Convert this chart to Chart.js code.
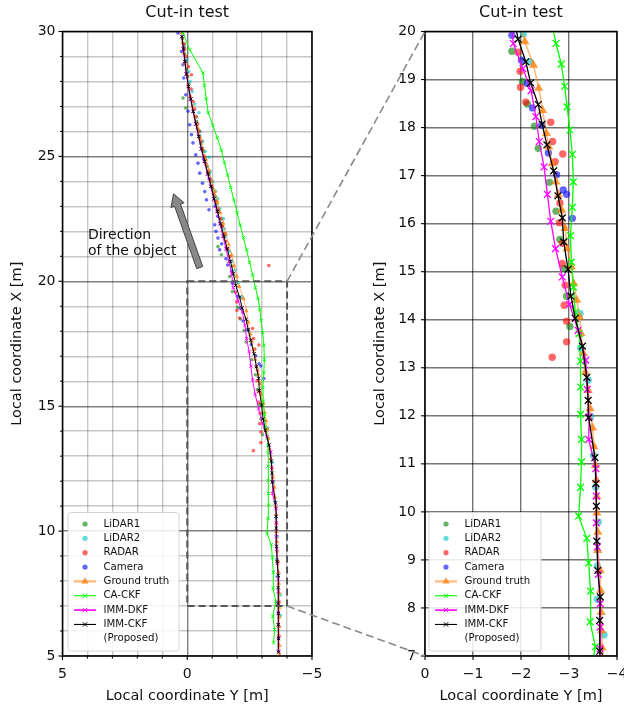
<!DOCTYPE html>
<html>
<head>
<meta charset="utf-8">
<title>Cut-in test</title>
<script src="https://cdn.jsdelivr.net/npm/chart.js@4.4.1/dist/chart.umd.min.js"></script>
<style>
  html, body { margin: 0; padding: 0; background: #ffffff; }
  #wrap { position: relative; width: 624px; height: 709px; overflow: hidden; background: #ffffff; }
  #wrap canvas { position: absolute; left: 0; top: 0; }
</style>
</head>
<body>
<div id="wrap">
  <canvas id="overview" width="680" height="709" style="width:680px;height:709px"></canvas>
  <canvas id="detail" width="680" height="709" style="width:680px;height:709px"></canvas>
</div>
<script>
// Local X = forward distance [m] (vertical axis), Local Y = lateral offset [m] (horizontal axis)

// ---- sensor measurements ----
const lidar1X = [13.86, 14.49, 15.07, 15.67, 16.26, 16.86, 17.57, 18.03, 18.49, 18.96, 19.59, 20.19, 20.60, 21.06, 21.39, 21.90, 22.20, 22.50, 22.80, 23.10, 23.40, 23.70, 24.00, 24.30, 24.60, 24.90, 25.20, 25.50, 25.80, 26.10, 26.40, 26.94, 27.34, 27.90, 28.20, 28.50, 28.80, 29.10, 29.40, 29.70];
const lidar1Y = [-3.02, -2.95, -2.90, -2.81, -2.73, -2.59, -2.36, -2.28, -2.13, -2.03, -1.81, -1.70, -1.80, -1.37, -1.23, -1.52, -1.40, -1.38, -1.25, -1.18, -1.12, -1.02, -0.97, -0.88, -0.80, -0.72, -0.65, -0.55, -0.50, -0.42, -0.38, 0.06, 0.17, -0.06, -0.02, 0.04, 0.06, 0.10, 0.14, 0.20];

const lidar2X = [6.62, 7.44, 8.18, 8.87, 9.79, 10.52, 11.18, 11.98, 12.74, 13.41, 14.13, 19.37, 19.95, 20.45, 20.80, 21.19, 21.80, 22.10, 22.50, 22.90, 23.30, 23.60, 23.99, 24.40, 24.97, 25.20, 25.60, 26.00, 26.57, 26.75, 27.10, 27.60, 28.00, 28.40, 28.90, 29.50];
const lidar2Y = [-3.74, -3.73, -3.59, -3.59, -3.61, -3.56, -3.51, -3.45, -3.40, -3.24, -3.23, -2.19, -2.05, -1.92, -1.80, -1.70, -1.52, -1.48, -1.45, -1.30, -1.22, -1.13, -1.03, -0.92, -0.87, -0.72, -0.62, -0.52, -0.37, -0.47, -0.30, -0.20, -0.12, -0.06, 0.02, 0.12];

const radarX = [13.22, 13.54, 13.97, 14.30, 14.72, 15.17, 15.59, 16.02, 16.43, 17.29, 17.45, 17.71, 18.11, 18.53, 18.84, 19.17, 19.57, 20.63, 21.00, 21.30, 21.60, 21.90, 22.20, 22.50, 22.90, 23.20, 23.50, 23.80, 24.10, 24.40, 24.70, 25.00, 25.30, 25.60, 26.00, 26.30, 26.60, 26.90, 27.20, 27.70, 28.27, 28.60, 29.00, 29.30, 29.50];
const radarY = [-2.65, -2.95, -2.95, -2.90, -2.92, -2.86, -2.86, -2.80, -2.81, -2.71, -2.87, -2.66, -2.62, -2.10, -1.99, -1.98, -1.94, -3.27, -1.72, -1.62, -1.55, -1.48, -1.40, -1.33, -1.22, -1.14, -1.05, -0.98, -0.92, -0.84, -0.75, -0.68, -0.60, -0.55, -0.48, -0.42, -0.36, -0.30, -0.24, -0.16, -0.17, -0.05, 0.05, 0.10, 0.12];

const cameraX = [16.11, 16.61, 16.70, 17.02, 17.47, 18.05, 18.41, 18.92, 19.40, 19.92, 20.40, 20.65, 20.90, 21.26, 21.50, 21.73, 22.00, 22.26, 22.60, 22.86, 23.00, 23.26, 23.59, 23.93, 24.10, 24.33, 24.73, 24.90, 25.06, 25.54, 25.87, 26.27, 26.81, 27.47, 28.14, 28.67, 29.20, 29.94];
const cameraY = [-3.07, -2.95, -2.88, -2.74, -2.57, -2.43, -2.24, -2.13, -2.01, -1.81, -1.78, -1.62, -1.55, -1.30, -1.38, -1.23, -1.15, -1.10, -1.22, -0.87, -1.12, -0.77, -0.70, -0.61, -0.88, -0.50, -0.43, -0.66, -0.34, -0.23, -0.17, -0.10, -0.03, 0.06, 0.14, 0.17, 0.23, 0.37];

// ---- reference trajectory ----
const truthX = [5.05, 5.42, 5.80, 6.18, 6.56, 6.95, 7.17, 7.53, 7.91, 8.36, 8.78, 9.20, 9.58, 9.98, 10.32, 10.66, 10.97, 11.36, 11.75, 12.15, 12.53, 12.91, 13.30, 13.71, 14.06, 14.41, 14.75, 15.10, 15.48, 15.90, 16.28, 16.60, 16.87, 17.25, 17.60, 17.88, 18.36, 18.82, 19.30, 19.79, 20.20, 20.62, 21.05, 21.48, 21.90, 22.32, 22.75, 23.18, 23.60, 24.02, 24.45, 24.88, 25.30, 25.72, 26.15, 26.58, 27.00, 27.42, 27.85, 28.28, 28.70, 29.12, 29.55, 29.95];
const truthY = [-3.70, -3.70, -3.69, -3.69, -3.69, -3.69, -3.69, -3.68, -3.67, -3.66, -3.65, -3.60, -3.60, -3.58, -3.58, -3.57, -3.55, -3.52, -3.49, -3.44, -3.40, -3.34, -3.30, -3.25, -3.22, -3.16, -3.10, -3.05, -2.96, -2.92, -2.85, -2.78, -2.73, -2.65, -2.58, -2.53, -2.45, -2.37, -2.26, -2.08, -1.98, -1.88, -1.78, -1.66, -1.55, -1.44, -1.32, -1.21, -1.10, -0.98, -0.86, -0.74, -0.62, -0.52, -0.41, -0.31, -0.21, -0.12, -0.04, 0.03, 0.09, 0.14, 0.19, 0.22];

// ---- filter estimates ----
const caCkfX = [5.53, 6.06, 6.59, 7.19, 7.71, 8.35, 8.94, 9.45, 9.91, 10.51, 11.04, 11.51, 12.03, 12.60, 13.14, 13.71, 14.16, 14.68, 15.20, 15.75, 16.34, 16.87, 17.44, 17.95, 18.43, 18.86, 19.32, 19.75, 20.25, 20.75, 21.25, 21.75, 22.25, 22.75, 23.25, 23.75, 24.25, 24.75, 25.25, 25.75, 26.25, 26.75, 27.30, 27.85, 28.34, 29.27, 29.94];
const caCkfY = [-3.46, -3.50, -3.43, -3.55, -3.44, -3.45, -3.41, -3.37, -3.20, -3.24, -3.26, -3.26, -3.24, -3.24, -3.24, -3.21, -3.13, -3.09, -3.05, -3.03, -3.07, -3.09, -3.07, -3.02, -2.96, -2.91, -2.84, -2.73, -2.62, -2.50, -2.38, -2.25, -2.12, -2.00, -1.87, -1.74, -1.62, -1.49, -1.37, -1.20, -1.02, -0.84, -0.76, -0.69, -0.63, -0.10, 0.17];

const immDkfX = [5.20, 5.75, 6.25, 6.75, 7.15, 7.60, 8.09, 8.70, 9.27, 9.77, 10.33, 10.90, 11.51, 11.98, 12.55, 13.16, 13.78, 14.32, 14.89, 15.48, 16.05, 16.61, 17.18, 17.71, 18.23, 18.77, 19.23, 19.75, 20.30, 20.80, 21.30, 21.80, 22.30, 22.80, 23.30, 23.80, 24.30, 24.80, 25.30, 25.80, 26.30, 26.80, 27.30, 27.80, 28.30, 28.80, 29.30, 29.80];
const immDkfY = [-3.66, -3.66, -3.65, -3.65, -3.65, -3.65, -3.65, -3.61, -3.59, -3.57, -3.57, -3.56, -3.41, -3.42, -3.38, -3.35, -3.19, -3.01, -2.86, -2.72, -2.62, -2.55, -2.48, -2.38, -2.31, -2.21, -2.04, -1.84, -1.78, -1.67, -1.55, -1.43, -1.31, -1.19, -1.06, -0.94, -0.81, -0.68, -0.56, -0.45, -0.34, -0.23, -0.13, -0.04, 0.04, 0.10, 0.16, 0.22];

const immCkfX = [5.15, 5.70, 6.25, 6.70, 7.10, 7.74, 8.23, 8.78, 9.39, 10.12, 10.59, 11.13, 11.96, 12.32, 12.80, 13.45, 14.03, 14.49, 15.05, 15.62, 16.12, 16.58, 17.10, 17.64, 18.07, 18.48, 18.93, 19.37, 19.84, 20.30, 20.80, 21.30, 21.80, 22.30, 22.80, 23.30, 23.80, 24.30, 24.80, 25.30, 25.80, 26.30, 26.80, 27.30, 27.80, 28.30, 28.80, 29.30, 29.80];
const immCkfY = [-3.66, -3.66, -3.65, -3.65, -3.64, -3.64, -3.65, -3.60, -3.58, -3.57, -3.56, -3.54, -3.41, -3.40, -3.37, -3.28, -3.13, -3.04, -2.98, -2.89, -2.86, -2.77, -2.68, -2.54, -2.44, -2.36, -2.20, -2.10, -1.94, -1.85, -1.73, -1.60, -1.47, -1.34, -1.21, -1.08, -0.96, -0.83, -0.70, -0.57, -0.46, -0.35, -0.24, -0.14, -0.05, 0.03, 0.09, 0.15, 0.21];

// ---- axis ranges and labelled ticks ----
const overviewLatRange = [-5, 5];
const overviewLonRange = [5, 30];
const overviewLatLabels = [5, 0, -5];
const overviewLonLabels = [5, 10, 15, 20, 25, 30];
const detailLatRange = [-4, 0];
const detailLonRange = [7, 20];
const detailLatLabels = [0, -1, -2, -3, -4];
const detailLonLabels = [7, 8, 9, 10, 11, 12, 13, 14, 15, 16, 17, 18, 19, 20];

const titleText = 'Cut-in test';
const latAxisTitle = 'Local coordinate Y [m]';
const lonAxisTitle = 'Local coordinate X [m]';
const directionCaption = ['Direction', 'of the object'];

Chart.defaults.font.family = "'DejaVu Sans', sans-serif";
Chart.defaults.color = '#111111';

const colors = {
  lidar1: 'rgba(0,128,0,0.6)',
  lidar2: 'rgba(0,191,191,0.6)',
  radar: 'rgba(255,0,0,0.6)',
  camera: 'rgba(0,0,255,0.6)',
  truthLine: 'rgba(255,127,14,0.55)',
  truthMark: 'rgba(255,127,14,0.8)',
  ca: '#00ff00',
  dkf: '#ff00ff',
  ckf: '#000000'
};

// series description shared by both panels and the legends
const series = [
  { key: 'lidar1', legend: ['LiDAR1'], xs: lidar1X, ys: lidar1Y, kind: 'dot', color: colors.lidar1 },
  { key: 'lidar2', legend: ['LiDAR2'], xs: lidar2X, ys: lidar2Y, kind: 'dot', color: colors.lidar2 },
  { key: 'radar', legend: ['RADAR'], xs: radarX, ys: radarY, kind: 'dot', color: colors.radar },
  { key: 'camera', legend: ['Camera'], xs: cameraX, ys: cameraY, kind: 'dot', color: colors.camera },
  { key: 'truth', legend: ['Ground truth'], xs: truthX, ys: truthY, kind: 'tri', color: colors.truthMark, line: colors.truthLine },
  { key: 'ca', legend: ['CA-CKF'], xs: caCkfX, ys: caCkfY, kind: 'cross', color: colors.ca, line: colors.ca },
  { key: 'dkf', legend: ['IMM-DKF'], xs: immDkfX, ys: immDkfY, kind: 'cross', color: colors.dkf, line: colors.dkf },
  { key: 'ckf', legend: ['IMM-CKF', '(Proposed)'], xs: immCkfX, ys: immCkfY, kind: 'cross', color: colors.ckf, line: colors.ckf }
];

function toPoints(xs, ys) {
  return xs.map((v, i) => ({ x: ys[i], y: v }));
}

function buildDatasets(size) {
  const n = series.length;
  return series.map((s, i) => {
    const ds = {
      label: s.legend.join(' '),
      data: toPoints(s.xs, s.ys),
      order: n - i,
      showLine: !!s.line,
      tension: 0,
      borderColor: s.line || s.color,
      borderWidth: s.key === 'truth' ? size.truthLine : size.line,
      pointBackgroundColor: s.color,
      pointBorderColor: s.color,
      pointHoverRadius: 0
    };
    if (s.kind === 'dot') {
      Object.assign(ds, { pointStyle: 'circle', pointRadius: size.dot, pointBorderWidth: 0 });
    } else if (s.kind === 'tri') {
      Object.assign(ds, { pointStyle: 'triangle', pointRadius: size.tri, pointBorderWidth: 0 });
    } else {
      Object.assign(ds, { pointStyle: 'crossRot', pointRadius: size.cross, pointBorderWidth: size.crossWidth });
    }
    return ds;
  });
}

function fmt(v) {
  const r = Math.round(v);
  return r < 0 ? '\u2212' + Math.abs(r) : String(r);
}

function hasLabel(list, v) {
  return list.some(l => Math.abs(l - v) < 1e-6);
}

// per-panel look
const panels = {
  overview: {
    latRange: overviewLatRange, lonRange: overviewLonRange,
    latLabels: overviewLatLabels, lonLabels: overviewLonLabels,
    padding: { left: 0, top: 31.5, right: 368, bottom: 0 },
    yAxisWidth: 62.5, yTickPad: 7,
    major: v => Math.abs(Math.round(v)) % 5 === 0,
    gridMajor: 'rgba(0,0,0,0.5)', gridMinor: 'rgba(0,0,0,0.22)', gridWidth: 1.4,
    size: { dot: 1.8, tri: 2.7, cross: 2.3, crossWidth: 1, line: 1, truthLine: 1 },
    legendInset: 5.5, legendWidth: 111
  },
  detail: {
    latRange: detailLatRange, lonRange: detailLonRange,
    latLabels: detailLatLabels, lonLabels: detailLonLabels,
    padding: { left: 363, top: 31.5, right: 63, bottom: 0 },
    yAxisWidth: 62, yTickPad: 9,
    major: v => true,
    gridMajor: 'rgba(0,0,0,0.55)', gridMinor: 'rgba(0,0,0,0.55)', gridWidth: 1.4,
    size: { dot: 3.7, tri: 5.3, cross: 4.8, crossWidth: 1.3, line: 1.3, truthLine: 1.6 },
    legendInset: 4, legendWidth: 112
  }
};

function scalesFor(p) {
  const gridColor = c => (c.tick && p.major(c.tick.value)) ? p.gridMajor : p.gridMinor;
  return {
    x: {
      type: 'linear', reverse: true,
      min: p.latRange[0], max: p.latRange[1],
      afterFit: s => { s.height = 53; },
      ticks: {
        stepSize: 1, autoSkip: false, maxRotation: 0, minRotation: 0, padding: 10,
        font: { size: 14 }, color: '#111111',
        callback: v => hasLabel(p.latLabels, v) ? fmt(v) : ''
      },
      grid: { drawTicks: false, color: gridColor, lineWidth: p.gridWidth },
      border: { display: false },
      title: { display: true, text: latAxisTitle, font: { size: 14.5 }, color: '#111111', padding: { top: 0, bottom: 3.6 } }
    },
    y: {
      type: 'linear',
      min: p.lonRange[0], max: p.lonRange[1],
      afterFit: s => { s.width = p.yAxisWidth; },
      ticks: {
        stepSize: 1, autoSkip: false, padding: p.yTickPad,
        font: { size: 14 }, color: '#111111',
        callback: v => hasLabel(p.lonLabels, v) ? fmt(v) : ''
      },
      grid: { drawTicks: false, color: gridColor, lineWidth: p.gridWidth },
      border: { display: false },
      title: { display: true, text: lonAxisTitle, font: { size: 14.5 }, color: '#111111', padding: { top: 8.3, bottom: 0 } }
    }
  };
}

function drawMarker(ctx, kind, x, y, color) {
  ctx.save();
  if (kind === 'dot') {
    ctx.fillStyle = color;
    ctx.beginPath(); ctx.arc(x, y, 2.6, 0, Math.PI * 2); ctx.fill();
  } else if (kind === 'tri') {
    const r = 4.2;
    ctx.fillStyle = color;
    ctx.beginPath();
    for (let k = 0; k < 3; k++) {
      const a = k * 2 * Math.PI / 3;
      const px = x + Math.sin(a) * r, py = y - Math.cos(a) * r;
      if (k === 0) ctx.moveTo(px, py); else ctx.lineTo(px, py);
    }
    ctx.closePath(); ctx.fill();
  } else {
    const h = 2.2;
    ctx.strokeStyle = color; ctx.lineWidth = 1;
    ctx.beginPath();
    ctx.moveTo(x - h, y - h); ctx.lineTo(x + h, y + h);
    ctx.moveTo(x + h, y - h); ctx.lineTo(x - h, y + h);
    ctx.stroke();
  }
  ctx.restore();
}

function drawLegend(chart, p) {
  const ctx = chart.ctx, a = chart.chartArea;
  const rowH = 14.35;
  const h = 138.5;
  const left = a.left + p.legendInset;
  const top = a.bottom - 5 - h;
  const w = p.legendWidth;
  ctx.save();
  ctx.beginPath();
  if (ctx.roundRect) ctx.roundRect(left, top, w, h, 2.5); else ctx.rect(left, top, w, h);
  ctx.fillStyle = 'rgba(255,255,255,0.85)';
  ctx.fill();
  ctx.strokeStyle = '#d4d4d4';
  ctx.lineWidth = 1;
  ctx.stroke();
  ctx.font = "10.2px 'DejaVu Sans', sans-serif";
  ctx.textBaseline = 'middle';
  ctx.textAlign = 'left';
  ctx.fillStyle = '#111111';
  let row = 0;
  series.forEach(s => {
    const cy = top + 11.5 + row * rowH;
    const mx = left + 17;
    if (s.line) {
      ctx.strokeStyle = s.line;
      ctx.lineWidth = s.key === 'truth' ? 2.2 : (s.key === 'dkf' ? 1.6 : 1.1);
      ctx.beginPath(); ctx.moveTo(left + 6, cy); ctx.lineTo(left + 28, cy); ctx.stroke();
    }
    drawMarker(ctx, s.kind, mx, cy, s.color);
    s.legend.forEach((t, k) => ctx.fillText(t, left + 35.5, cy + k * rowH));
    row += s.legend.length;
  });
  ctx.restore();
}

function drawTicksAndFrame(chart, p) {
  const ctx = chart.ctx, a = chart.chartArea;
  const sx = chart.scales.x, sy = chart.scales.y;
  ctx.save();
  ctx.strokeStyle = '#000000';
  ctx.lineWidth = 1.1;
  sx.ticks.forEach(t => {
    const x = sx.getPixelForValue(t.value);
    const len = p.major(t.value) ? 4 : 2.4;
    ctx.beginPath(); ctx.moveTo(x, a.bottom); ctx.lineTo(x, a.bottom + len); ctx.stroke();
  });
  sy.ticks.forEach(t => {
    const y = sy.getPixelForValue(t.value);
    const len = p.major(t.value) ? 4 : 2.4;
    ctx.beginPath(); ctx.moveTo(a.left, y); ctx.lineTo(a.left - len, y); ctx.stroke();
  });
  ctx.lineWidth = 1.5;
  ctx.strokeRect(a.left, a.top, a.right - a.left, a.bottom - a.top);
  // panel title
  ctx.fillStyle = '#111111';
  ctx.font = "16px 'DejaVu Sans', sans-serif";
  ctx.textAlign = 'center';
  ctx.textBaseline = 'middle';
  ctx.fillText(titleText, (a.left + a.right) / 2, a.top - 18.5);
  ctx.restore();
}

// zoom window, direction arrow and caption on the overview panel
function drawOverviewExtras(chart) {
  const ctx = chart.ctx;
  const sx = chart.scales.x, sy = chart.scales.y;
  ctx.save();
  // dashed window enlarged in the right-hand panel
  const x0 = sx.getPixelForValue(detailLatRange[1]), x1 = sx.getPixelForValue(detailLatRange[0]);
  const y0 = sy.getPixelForValue(detailLonRange[1]), y1 = sy.getPixelForValue(detailLonRange[0]);
  ctx.setLineDash([7, 4]);
  ctx.strokeStyle = '#555555';
  ctx.lineWidth = 2;
  ctx.strokeRect(x0, y0, x1 - x0, y1 - y0);
  ctx.setLineDash([]);

  // direction arrow
  const tail = { x: sx.getPixelForValue(-0.5), y: sy.getPixelForValue(20.55) };
  const tip = { x: sx.getPixelForValue(0.55), y: sy.getPixelForValue(23.5) };
  const dx = tip.x - tail.x, dy = tip.y - tail.y;
  const len = Math.hypot(dx, dy);
  const ux = dx / len, uy = dy / len;
  const nx = -uy, ny = ux;
  const shaft = 3.2, head = 7, headLen = 12;
  const bx = tip.x - ux * headLen, by = tip.y - uy * headLen;
  ctx.beginPath();
  ctx.moveTo(tail.x + nx * shaft, tail.y + ny * shaft);
  ctx.lineTo(bx + nx * shaft, by + ny * shaft);
  ctx.lineTo(bx + nx * head, by + ny * head);
  ctx.lineTo(tip.x, tip.y);
  ctx.lineTo(bx - nx * head, by - ny * head);
  ctx.lineTo(bx - nx * shaft, by - ny * shaft);
  ctx.lineTo(tail.x - nx * shaft, tail.y - ny * shaft);
  ctx.closePath();
  ctx.fillStyle = '#888888';
  ctx.fill();
  ctx.strokeStyle = '#444444';
  ctx.lineWidth = 1;
  ctx.stroke();

  // caption
  ctx.fillStyle = '#111111';
  ctx.font = "14px 'DejaVu Sans', sans-serif";
  ctx.textAlign = 'left';
  ctx.textBaseline = 'middle';
  const cx = sx.getPixelForValue(3.98), cy = sy.getPixelForValue(21.84);
  directionCaption.forEach((t, k) => ctx.fillText(t, cx, cy + k * 16));
  ctx.restore();
}

let overviewChart = null;

// dashed links from the zoom window to the corners of the detail panel
function drawLinks(chart) {
  if (!overviewChart) return;
  const ctx = chart.ctx;
  const ox = overviewChart.scales.x, oy = overviewChart.scales.y;
  const dx = chart.scales.x, dy = chart.scales.y;
  const fromX = ox.getPixelForValue(detailLatRange[0]);
  const top = { x0: fromX, y0: oy.getPixelForValue(detailLonRange[1]), x1: dx.getPixelForValue(detailLatRange[1]), y1: dy.getPixelForValue(detailLonRange[1]) };
  const bot = { x0: fromX, y0: oy.getPixelForValue(detailLonRange[0]), x1: dx.getPixelForValue(detailLatRange[1]), y1: dy.getPixelForValue(detailLonRange[0]) };
  ctx.save();
  ctx.setLineDash([8, 4]);
  ctx.strokeStyle = '#8a8a8a';
  ctx.lineWidth = 1.6;
  [top, bot].forEach(s => {
    ctx.beginPath(); ctx.moveTo(s.x0, s.y0); ctx.lineTo(s.x1, s.y1); ctx.stroke();
  });
  ctx.restore();
}

const decorPlugin = {
  id: 'panelDecor',
  afterDraw(chart) {
    const p = panels[chart.canvas.id];
    drawTicksAndFrame(chart, p);
    if (chart.canvas.id === 'overview') drawOverviewExtras(chart);
    else drawLinks(chart);
    drawLegend(chart, p);
  }
};

function makeChart(id) {
  const p = panels[id];
  return new Chart(document.getElementById(id), {
    type: 'scatter',
    data: { datasets: buildDatasets(p.size) },
    options: {
      responsive: false,
      animation: false,
      devicePixelRatio: 1,
      events: [],
      layout: { autoPadding: false, padding: p.padding },
      plugins: { legend: { display: false }, tooltip: { enabled: false }, title: { display: false } },
      scales: scalesFor(p)
    },
    plugins: [decorPlugin]
  });
}

overviewChart = makeChart('overview');
const detailChart = makeChart('detail');
</script>
</body>
</html>
